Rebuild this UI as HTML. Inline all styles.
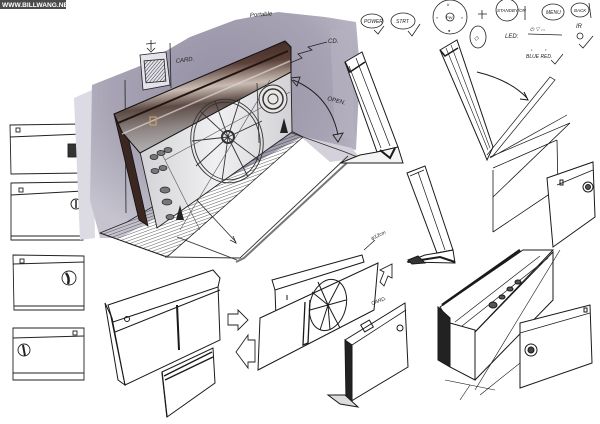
<!DOCTYPE html>
<html><head><meta charset="utf-8"><style>
html,body{margin:0;padding:0;background:#fff;}
svg{display:block;}
text{font-family:"Liberation Sans",sans-serif;}
</style></head><body>
<svg width="600" height="424" viewBox="0 0 600 424" xmlns="http://www.w3.org/2000/svg">
<defs>
<radialGradient id="wall" cx="0.5" cy="0.35" r="0.7">
<stop offset="0" stop-color="#948fa3"/><stop offset="0.6" stop-color="#a7a3b4"/><stop offset="1" stop-color="#c6c3cf"/>
</radialGradient>
<linearGradient id="bar" x1="0" y1="0" x2="0.15" y2="1">
<stop offset="0" stop-color="#2f1e19"/><stop offset="0.3" stop-color="#5a4038"/><stop offset="0.48" stop-color="#c9bcb3"/><stop offset="0.62" stop-color="#5c4a44"/><stop offset="0.8" stop-color="#8f8786"/><stop offset="1" stop-color="#b5b1b3"/>
</linearGradient>
<linearGradient id="face" x1="0" y1="0" x2="1" y2="0">
<stop offset="0" stop-color="#d3d3d7"/><stop offset="0.5" stop-color="#f0f0f2"/><stop offset="1" stop-color="#d2d2d6"/>
</linearGradient>
<pattern id="hatch" width="3" height="3" patternUnits="userSpaceOnUse" patternTransform="rotate(70)">
<line x1="0" y1="0" x2="0" y2="3" stroke="#333" stroke-width="0.8"/>
</pattern>
<pattern id="hatch2" width="2.5" height="2.5" patternUnits="userSpaceOnUse" patternTransform="rotate(45)">
<line x1="0" y1="0" x2="0" y2="2.5" stroke="#222" stroke-width="0.9"/>
</pattern>
</defs>

<!-- watermark -->
<rect x="0" y="0" width="66" height="9" fill="#4a4a4a"/>
<text x="2" y="7" font-size="6.6" fill="#fff" font-family="Liberation Mono, monospace" font-weight="bold">WWW.BILLWANG.NET</text>

<!-- left column sketches -->
<g fill="none" stroke="#222" stroke-width="0.9">
<path d="M10,125 L82,124 L83,173 L11,174 Z"/>
<path d="M10,137 L82,134"/>
<rect x="16" y="128" width="4" height="4"/>
<rect x="68" y="144" width="12" height="13" fill="#333"/>
<path d="M11,183 L83,182 L83,240 L11,240 Z"/>
<path d="M11,195 L83,191"/>
<rect x="19" y="188" width="4" height="4"/>
<path d="M11,236 L83,236"/>
<circle cx="76" cy="204" r="5"/>
<path d="M76,200 L76,208" stroke-width="1.5"/>
<path d="M13,255 L84,256 L84,310 L14,310 Z"/>
<path d="M13,264 L84,262"/>
<rect x="20" y="259" width="4" height="4"/>
<path d="M14,306 L84,306"/>
<circle cx="69" cy="278" r="7"/>
<path d="M66,273 Q70,278 68,284" stroke-width="2.5"/>
<path d="M13,328 L84,328 L84,380 L13,380 Z"/>
<path d="M13,338 L84,336"/>
<rect x="73" y="331" width="4" height="4"/>
<path d="M13,373 L84,373"/>
<circle cx="24" cy="350" r="6"/>
<path d="M23,345 L25,356" stroke-width="2"/>
</g>

<!-- wall shading -->
<path d="M74,98 L92,90 L95,238 L80,240 Z" fill="#dcdae2"/>
<path d="M92,85 L140,66 L190,37 L235,20 L278,12 L325,17 L356,22 L360,70 L356,150 L300,138 L120,238 L100,238 L90,200 Z" fill="url(#wall)"/>
<path d="M300,136 L352,148 L360,158 L330,162 Z" fill="#d4d1db"/>
<path d="M330,30 L352,28 L354,140 L335,135 Z" fill="#b5b1c0" opacity="0.7"/>

<!-- floor -->
<g fill="none" stroke="#333" stroke-width="0.9">
<path d="M165,257 L240,258 L348,156"/>
<path d="M236,262 L244,258 L350,160" stroke="#777" stroke-width="2"/>
<path d="M177,237 L237,260"/>
<path d="M292,133 L345,152 L360,158"/>
<path d="M195,198 L236,242" />
<path d="M230,240 L236,243 L233,236"/>
</g>

<!-- hatched base -->
<path d="M100,233 L127,222 L285,128 L303,137 L167,257 Z" fill="url(#hatch)" stroke="#222" stroke-width="0.8"/>
<path d="M100,233 L167,257" stroke="#222" stroke-width="1"/>

<!-- card box -->
<g stroke="#222" fill="none" stroke-width="0.8">
<path d="M125,80 L126,213"/>
<path d="M170,43 L171,88"/>
<path d="M140,55 L166,52 L170,85 L143,90 Z" fill="#e4e2ea"/>
<rect x="145" y="60" width="20" height="22" fill="url(#hatch2)" transform="rotate(-5 155 71)"/>
<path d="M146,44 L156,43 M151,40 L151,50 M147,48 L151,52 L155,48"/>
</g>
<text x="176" y="63" font-size="6" font-style="italic" fill="#222" transform="rotate(-8 176 63)">CARD.</text>
<text x="250" y="17" font-size="6" font-style="italic" fill="#222" transform="rotate(-4 250 17)">Portable</text>
<path d="M290,63 L302,58 L298,54 L312,50 L308,47 L327,42" fill="none" stroke="#222" stroke-width="0.8"/>
<text x="328" y="43" font-size="6" font-style="italic" fill="#222">CD.</text>
<text x="327" y="100" font-size="6" font-style="italic" fill="#222" transform="rotate(15 327 100)">OPEN.</text>
<path d="M293,80 Q330,95 338,135" fill="none" stroke="#222" stroke-width="1"/>
<path d="M290,78 L300,77 L297,86 Z M333,135 L343,133 L338,142 Z" fill="none" stroke="#222" stroke-width="0.9"/>

<!-- main device -->
<path d="M140,152 L291,72 L292,132 L157,228 Z" fill="url(#face)" stroke="#222" stroke-width="0.9"/>
<path d="M114,114 L123,114 L148,226 L139,220 Z" fill="#3a2722" stroke="#111" stroke-width="0.8"/>
<path d="M114,114 L285,41 L291,47 L291,72 L140,153 L122,132 Z" fill="url(#bar)" stroke="#111" stroke-width="1"/>
<path d="M118,123 L288,51" stroke="#24160f" stroke-width="2" fill="none"/>
<path d="M122,134 L290,61" stroke="#e0d8d3" stroke-width="1.5" fill="none" opacity="0.7"/>
<rect x="150" y="117" width="6" height="8" fill="none" stroke="#c9a070" stroke-width="1.2"/>
<path d="M257,83 L259,143" stroke="#333" stroke-width="0.8"/>
<!-- fan -->
<g fill="none" stroke="#333" stroke-width="0.9">
<ellipse cx="227" cy="141" rx="36" ry="42" transform="rotate(-10 227 141)"/>
<ellipse cx="227" cy="141" rx="33" ry="39" transform="rotate(-10 227 141)"/>
<circle cx="228" cy="137" r="6" stroke-width="2"/>
<path d="M228,137 L200,111 M228,137 L240,99 M228,137 L262,121 M228,137 L260,161 M228,137 L222,181 M228,137 L196,166 M228,137 L192,141 M228,137 L215,101 M228,137 L248,177"/>
<path d="M165,160 L290,92 M180,230 L270,80 M160,150 L200,230" stroke="#555" stroke-width="0.6"/>
</g>
<g fill="none" stroke="#333">
<circle cx="273" cy="99" r="14" fill="#e8e6e4" stroke-width="1"/>
<circle cx="273" cy="99" r="10" stroke-width="1.5"/>
<circle cx="273" cy="99" r="5" stroke-width="1"/>
</g>
<g fill="#777" stroke="#222" stroke-width="0.7">
<ellipse cx="154" cy="157" rx="4" ry="2.5"/><ellipse cx="161" cy="153" rx="4" ry="2.5"/><ellipse cx="168" cy="150" rx="4" ry="2.5"/>
<ellipse cx="155" cy="171" rx="4" ry="2.5"/><ellipse cx="163" cy="168" rx="4" ry="2.5"/>
<ellipse cx="165" cy="190" rx="5" ry="3"/><ellipse cx="167" cy="202" rx="5" ry="3"/><ellipse cx="170" cy="217" rx="4" ry="2.5"/>
</g>
<path d="M176,220 L180,205 L184,220 Z M280,133 L284,118 L288,133 Z" fill="#222"/>

<!-- stand device 1 -->
<g fill="none" stroke="#1a1a1a" stroke-width="1">
<path d="M345,62 L362,52 L398,147 L377,152 Z" fill="#fff"/>
<path d="M349,66 L381,148 M356,58 L390,146" stroke-width="0.7"/>
<path d="M345,62 L350,72 L365,62" stroke-width="1.5"/>
<path d="M340,163 L360,155 L377,152 L398,147 L403,163 Z" fill="#f4f4f4"/>
<path d="M380,150 L390,158 L395,148" stroke-width="2"/>
</g>
<!-- stand device 2 -->
<g fill="none" stroke="#1a1a1a" stroke-width="1">
<path d="M407,173 L425,166 L453,250 L437,253 Z" fill="#fff"/>
<path d="M410,176 L424,170 M418,172 L445,250" stroke-width="0.7"/>
<path d="M407,262 L425,255 L437,253 L453,250 L455,263 Z"/>
<path d="M408,262 L440,257 L455,262" stroke-width="2"/>
</g>
<!-- upper right folding device -->
<g fill="none" stroke="#1a1a1a" stroke-width="1">
<path d="M440,50 L457,40 L493,147 L487,160 L483,150 Z" fill="#fff"/>
<path d="M446,48 L488,150 M451,45 L490,148" stroke-width="0.6"/>
<path d="M440,50 L445,56 L458,48" stroke-width="1.5"/>
<path d="M487,155 L550,77 L555,80 L492,157 M490,157 L570,123 M490,158 L567,115" stroke-width="0.7"/>
<path d="M477,72 Q510,80 527,98" />
<path d="M524,92 L528,100 L520,99" />
<path d="M493,168 L557,140 M493,170 L493,232 M493,232 L560,187 M493,197 L570,123 M557,140 L558,190" stroke-width="0.8"/>
</g>

<!-- top right UI notes -->
<g fill="none" stroke="#222" stroke-width="0.8">
<ellipse cx="372" cy="21" rx="11" ry="7"/>
<path d="M374,30 L378,34 L384,26"/>
<ellipse cx="403" cy="21" rx="12" ry="8"/>
<path d="M408,31 L412,36 L420,24"/>
<circle cx="450" cy="17" r="17"/>
<circle cx="450" cy="17" r="4"/>
<path d="M482,10 L482,19 M478,14 L487,14"/>
<ellipse cx="478" cy="37" rx="8" ry="11"/>
<circle cx="507" cy="10" r="11"/>
<path d="M525,6 L525,20"/>
<ellipse cx="553" cy="12" rx="11" ry="8"/>
<ellipse cx="580" cy="10" rx="9" ry="7"/>
<path d="M589,3 L591,18"/>
<path d="M528,34 L562,35"/>
<circle cx="580" cy="36" r="3"/>
<path d="M579,44 L583,48 L593,36"/>
<path d="M551,60 L555,64 L563,54"/>
</g>
<g font-size="5" font-style="italic" fill="#222">
<text x="364" y="23">POWER</text>
<text x="396" y="23">STRT</text>
<text x="447" y="6" font-size="4">II</text>
<text x="446" y="19" font-size="4">PW</text>
<text x="436" y="19" font-size="4">«</text>
<text x="461" y="19" font-size="4">»</text>
<text x="448" y="32" font-size="4">●</text>
<text x="497" y="12" font-size="4.5">STANDBY/ON</text>
<text x="546" y="14">MENU</text>
<text x="574" y="12" font-size="4.5">BACK</text>
<text x="505" y="38" font-size="6">LED:</text>
<text x="530" y="31" font-size="5">⏻ ▽ ▭</text>
<text x="576" y="28" font-size="6">IR</text>
<text x="526" y="58" font-size="5">BLUE RED.</text>
<text x="531" y="51" font-size="4">•</text><text x="545" y="51" font-size="4">•</text>
<text x="474" y="40" font-size="6">◇</text>
</g>

<!-- right device -->
<g fill="none" stroke="#1a1a1a" stroke-width="1">
<path d="M547,178 L593,162 L595,217 L553,247 Z" fill="#fff"/>
<path d="M557,185 L593,170" stroke-width="0.8"/>
<circle cx="588" cy="187" r="5"/><circle cx="588" cy="187" r="2.5" fill="#555"/>
<rect x="560" y="180" width="3" height="5"/>
<path d="M440,307 L523,250 L553,250 L475,332 L450,323 Z" fill="#fff"/>
<path d="M450,323 L475,330 L475,380 L450,367 Z" fill="#fff"/>
<path d="M475,332 L553,252 L553,300 L475,380" />
<path d="M438,307 L450,318 L450,367 L438,360 Z" fill="#222"/>
<path d="M442,305 L520,250" stroke-width="2.5"/>
<path d="M455,322 L540,256 M462,326 L548,258" stroke-width="0.7"/>
<ellipse cx="493" cy="305" rx="4" ry="3" fill="#555"/>
<ellipse cx="502" cy="297" rx="3" ry="2" fill="#555"/>
<ellipse cx="510" cy="289" rx="3" ry="2" fill="#555"/>
<ellipse cx="518" cy="282" rx="3" ry="2" fill="#555"/>
<path d="M475,390 L560,250 M480,395 L590,307 M460,400 L470,385 M445,380 L495,390" stroke-width="0.6"/>
<path d="M520,323 L590,305 L592,363 L520,388 Z" fill="#fff"/>
<path d="M520,333 L590,313" stroke-width="0.7"/>
<circle cx="531" cy="350" r="6"/><circle cx="531" cy="350" r="3" fill="#444"/>
<rect x="584" y="308" width="3" height="4"/>
</g>

<!-- bottom-left devices -->
<g fill="none" stroke="#1a1a1a" stroke-width="1">
<path d="M110,312 L218,285 L220,340 L125,385 Z" fill="#fff"/>
<path d="M108,305 L213,270 L220,278 L218,287 L113,322 Z" fill="#fff"/>
<path d="M115,332 L220,290" />
<path d="M105,303 L112,318 L125,385 L118,380 Z"/>
<path d="M177,305 L179,350" stroke-width="2"/>
<circle cx="127" cy="319" r="2.5"/>
<path d="M162,372 L213,348 L215,383 L167,417 Z" fill="#fff"/>
<path d="M162,372 L167,417 M164,376 L212,352 M165,380 L213,357" stroke-width="1.3"/>
</g>
<!-- arrows -->
<g fill="#fff" stroke="#222" stroke-width="0.9">
<path d="M228,314 L238,314 L238,310 L248,320 L238,330 L238,325 L228,325 Z"/>
<path d="M255,340 L248,340 L248,335 L236,352 L248,368 L248,362 L255,362 Z"/>
<path d="M380,282 L384,272 L380,270 L392,264 L392,278 L388,276 L384,286 Z"/>
</g>
<!-- exploded middle -->
<g fill="none" stroke="#1a1a1a" stroke-width="1">
<path d="M272,280 L362,255 L364,262 L275,290 Z" fill="#fff"/>
<path d="M275,290 L276,318"/>
<path d="M260,318 L378,263 L374,310 L258,370 Z" fill="#fff"/>
<ellipse cx="328" cy="305" rx="18" ry="26" transform="rotate(15 328 305)"/>
<path d="M328,305 L318,282 M328,305 L340,282 M328,305 L346,300 M328,305 L340,328 M328,305 L320,330 M328,305 L310,310 M328,305 L312,292 M328,305 L330,330"/>
<path d="M305,302 L303,345 L308,343 L310,300" stroke-width="1.3"/>
<path d="M287,295 L287,300" />
<path d="M345,340 L405,303 L408,367 L348,403 Z" fill="#fff"/>
<path d="M345,340 L352,345 L352,403 L346,400 Z" fill="#222"/>
<path d="M352,345 L406,310" stroke-width="0.8"/>
<rect x="362" y="322" width="10" height="8" transform="rotate(-30 367 326)"/>
<circle cx="400" cy="328" r="3"/>
<path d="M328,395 L345,395 L358,407 L340,404 Z" fill="#ddd"/>
<path d="M408,260 L418,256 L425,263 L412,264 Z" fill="#333"/>
<path d="M364,250 L375,240" stroke-width="0.7"/>
</g>
<text x="372" y="305" font-size="5" font-style="italic" fill="#222" transform="rotate(-20 372 305)">CARD.</text>
<text x="372" y="240" font-size="5" font-style="italic" fill="#222" transform="rotate(-25 372 240)">φ12cm</text>
</svg>
</body></html>
